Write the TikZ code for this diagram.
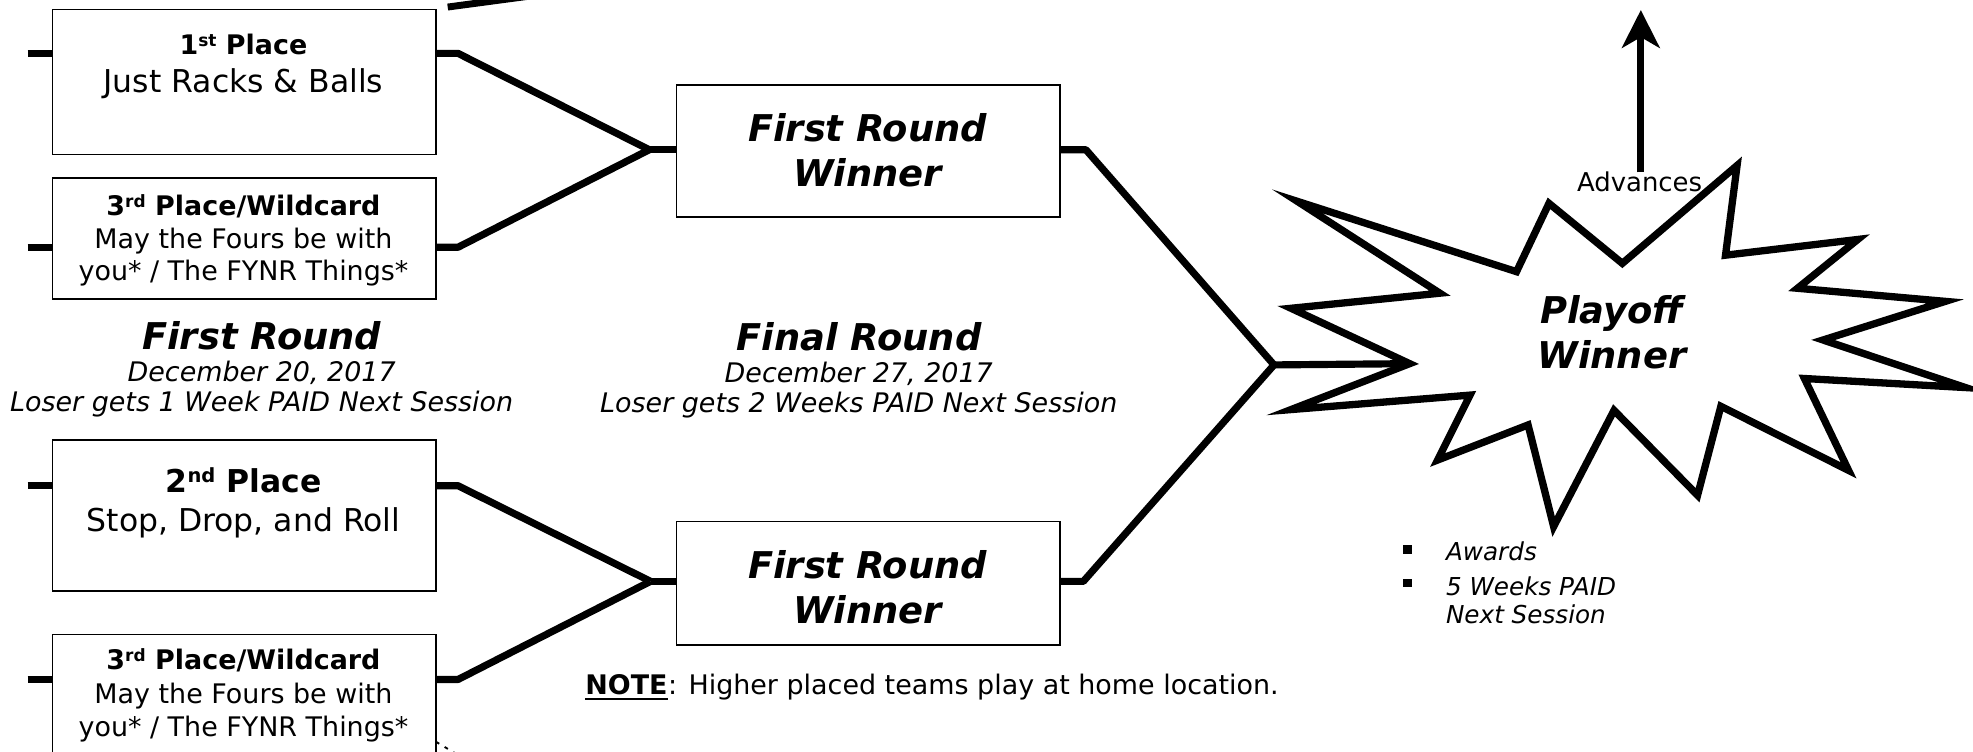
\documentclass[tikz,border=0pt]{standalone}
\usepackage{fontspec}
\setmainfont{DejaVu Sans}
\usetikzlibrary{arrows.meta,calc}
\newcommand\szS{\fontsize{21.4}{26}\selectfont}
\newcommand\szM{\fontsize{25}{30}\selectfont}
\newcommand\szL{\fontsize{29.3}{35}\selectfont}
\newcommand\szB{\fontsize{19.6}{23}\selectfont}
\newcommand\szA{\fontsize{20.6}{24}\selectfont}
\newcommand\supS[1]{\raisebox{6.5pt}{\fontsize{13.5}{14}\selectfont #1}}
\newcommand\supM[1]{\raisebox{7.5pt}{\fontsize{15.5}{16}\selectfont #1}}
\tikzset{
  box/.style={draw, line width=1.2pt, inner sep=0pt, anchor=north west},
  conn/.style={line width=5.7pt, line join=bevel},
  txt/.style={inner sep=0pt, anchor=base},
  txtl/.style={inner sep=0pt, anchor=base west},
}
\begin{document}
\begin{tikzpicture}[x=1pt,y=-1pt]
\path[use as bounding box] (0,0) rectangle (1568,597.6);
\clip (0,0) rectangle (1568,597.6);
% boxes
\node[box, minimum width=305pt, minimum height=115pt] (A) at (41,7) {};
\node[box, minimum width=305pt, minimum height=96pt] (B) at (41,141) {};
\node[box, minimum width=305pt, minimum height=120pt] (C) at (41,349) {};
\node[box, minimum width=305pt, minimum height=120pt] (D) at (41,503.5) {};
\node[box, minimum width=305pt, minimum height=105pt] (W1) at (537,67) {};
\node[box, minimum width=305pt, minimum height=98pt] (W2) at (537,414) {};
% coordinates
\coordinate (aL) at (22,42.4);  \coordinate (aR) at (364,42.4);
\coordinate (bL) at (22,196.5); \coordinate (bR) at (364,196.5);
\coordinate (cL) at (22,386);   \coordinate (cR) at (364,386);
\coordinate (dL) at (22,540);   \coordinate (dR) at (364,540);
\coordinate (J1) at (516,119);  \coordinate (J2) at (517,462);
\coordinate (w1R) at (863,119); \coordinate (w2R) at (861,462);
\coordinate (F) at (1012.5,290);
\coordinate (starL) at (1120.3,289);
% left stubs
\draw[conn] (aL) -- (A.west|-aL);
\draw[conn] (bL) -- (B.west|-bL);
\draw[conn] (cL) -- (C.west|-cL);
\draw[conn] (dL) -- (D.west|-dL);
% brackets
\draw[conn] (A.east|-aR) -- (aR) -- (J1);
\draw[conn] (B.east|-bR) -- (bR) -- (J1);
\draw[conn] (J1) -- (W1.west|-J1);
\draw[conn] (C.east|-cR) -- (cR) -- (J2);
\draw[conn] (D.east|-dR) -- (dR) -- (J2);
\draw[conn] (J2) -- (W2.west|-J2);
\draw[conn] (W1.east|-w1R) -- (w1R) -- (F);
\draw[conn] (W2.east|-w2R) -- (w2R) -- (F);
\draw[conn] (F) -- (starL);
% fragments at the edges
\coordinate (topA) at (355.8,5.6); \coordinate (topB) at (450,-7);
\draw[line width=5.5pt] (topA) -- (topB);
\coordinate (dashA) at (346.5,589.5); \coordinate (dashB) at (364,600);
\draw[line width=1.5pt, dash pattern=on 3pt off 5pt] (dashA) -- (dashB);
% star
\draw[line width=5.8pt, line join=miter, fill=white]
 (1031,160) -- (1205.2,215.9) -- (1231.0,161.6) -- (1289.3,209.3) --
 (1380.5,131.5) -- (1371.3,202.8) -- (1476.4,190.3) -- (1428.5,229.1) --
 (1546,239.5) -- (1448.8,270.2) -- (1562,308.0) -- (1434.0,300.8) --
 (1469.1,373.8) -- (1367.6,322.9) -- (1349.1,393.6) -- (1282.7,326.1) --
 (1234.7,418.5) -- (1214.4,337.7) -- (1142.5,365.6) -- (1168.3,314.0) --
 (1026,325.5) -- (starL) -- (1026,245) -- (1144.3,233.0) -- cycle;
% advances arrow
\coordinate (advB) at (1304,137); \coordinate (advT) at (1304,8);
\draw[line width=5.3pt, -{Stealth[length=30pt,width=30pt,inset=8.5pt]}] (advB) -- (advT);
% texts
\node[txt] (a1) at (193.5,43.4) {\szS\bfseries 1\supS{st} Place};
\node[txt] (a2) at (193.5,73.7) {\szM Just Racks \& Balls};
\node[txt] (b1) at (193.5,171.6) {\szS\bfseries 3\supS{rd} Place/Wildcard};
\node[txt] (b2) at (193.5,197.6) {\szS May the Fours be with};
\node[txt] (b3) at (193.5,223) {\szS you* / The FYNR Things*};
\node[txt] (c1) at (193.5,391.3) {\szM\bfseries 2\supM{nd} Place};
\node[txt] (c2) at (193.5,422.7) {\szM Stop, Drop, and Roll};
\node[txt] (d1) at (193.5,532) {\szS\bfseries 3\supS{rd} Place/Wildcard};
\node[txt] (d2) at (193.5,558.9) {\szS May the Fours be with};
\node[txt] (d3) at (193.5,585.1) {\szS you* / The FYNR Things*};
\node[txt] (h1) at (208,277.5) {\szL\bfseries\itshape First Round};
\node[txt] (h1d) at (208,303) {\szS\itshape December 20, 2017};
\node[txt] (h1l) at (208,327) {\szS\itshape Loser gets 1 Week PAID Next Session};
\node[txt] (h2) at (682.5,278.6) {\szL\bfseries\itshape Final Round};
\node[txt] (h2d) at (682.5,304) {\szS\itshape December 27, 2017};
\node[txt] (h2l) at (682.5,328) {\szS\itshape Loser gets 2 Weeks PAID Next Session};
\node[txt] (w1a) at (689.5,112.5) {\szL\bfseries\itshape First Round};
\node[txt] (w1b) at (689.5,148.5) {\szL\bfseries\itshape Winner};
\node[txt] (w2a) at (689.5,459.6) {\szL\bfseries\itshape First Round};
\node[txt] (w2b) at (689.5,495.4) {\szL\bfseries\itshape Winner};
\node[txt] (p1) at (1281,257) {\szL\bfseries\itshape Playoff};
\node[txt] (p2) at (1281,293) {\szL\bfseries\itshape Winner};
\node[txt] (adv) at (1303,151.8) {\szA Advances};
\node[txtl] (note) at (465,552.3) {\szS\bfseries NOTE};
\node[txtl] (notet) at (note.base east) {\szS: Higher placed teams play at home location.};
\draw[line width=1.6pt] ($(note.base west)+(0,3)$) -- ($(note.base east)+(0,3)$);
% bullets
\fill (1115,433.5) rectangle ++(6.8,6.5);
\fill (1115,460.3) rectangle ++(6.8,6.5);
\node[txtl] (bl1) at (1149,445.6) {\szB\itshape Awards};
\node[txtl] (bl2) at (1149,473.4) {\szB\itshape 5 Weeks PAID};
\node[txtl] (bl3) at (1149,495.4) {\szB\itshape Next Session};
\end{tikzpicture}
\end{document}
